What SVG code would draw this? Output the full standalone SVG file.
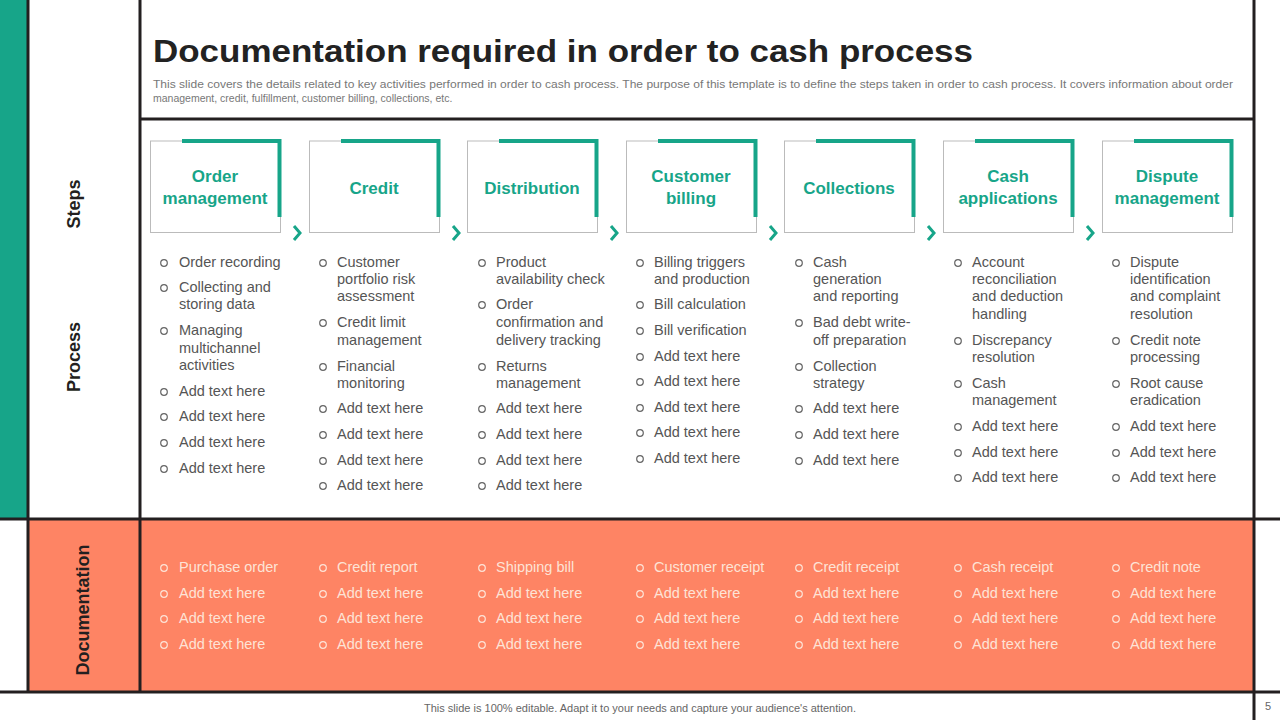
<svg xmlns="http://www.w3.org/2000/svg" width="1280" height="720" viewBox="0 0 1280 720">
<style>
.ln{stroke:#231f20;stroke-width:3;fill:none}
.title{font-family:"Liberation Sans",Arial,sans-serif;font-weight:bold;font-size:32px;fill:#222}
.sub{font-family:"Liberation Sans",Arial,sans-serif;font-size:10.5px;fill:#777}
.side{font-family:"Liberation Sans",Arial,sans-serif;font-weight:bold;font-size:18px;fill:#231f20}
.step{font-family:"Liberation Sans",Arial,sans-serif;font-weight:bold;font-size:17px;fill:#17a589;text-anchor:middle}
.box{fill:#fff;stroke:#bbb;stroke-width:1}
.brk{fill:none;stroke:#17a589;stroke-width:4}
.chev{fill:none;stroke:#17a589;stroke-width:3}
.p{font-family:"Liberation Sans",Arial,sans-serif;font-size:14.5px;fill:#555}
.d{font-family:"Liberation Sans",Arial,sans-serif;font-size:14.5px;fill:#fde3d6}
.bp{fill:none;stroke:#666;stroke-width:1.2}
.bd{fill:none;stroke:#fde3d6;stroke-width:1.2}
.foot{font-family:"Liberation Sans",Arial,sans-serif;font-size:11px;fill:#666}
</style>
<rect x="0" y="0" width="1280" height="720" fill="#fff"/>
<rect x="0" y="0" width="27" height="519" fill="#17a589"/>
<rect x="29" y="520" width="1224" height="172" fill="#fe8464"/>
<g id="frame">
<line class="ln" x1="28" y1="0" x2="28" y2="692"/>
<line class="ln" x1="140" y1="0" x2="140" y2="692"/>
<line class="ln" x1="1254" y1="0" x2="1254" y2="720"/>
<line class="ln" x1="140" y1="119" x2="1254" y2="119"/>
<line class="ln" x1="0" y1="519" x2="1280" y2="519"/>
<line class="ln" x1="0" y1="692" x2="1280" y2="692"/>
</g>
<text class="title" x="153" y="62" textLength="820" lengthAdjust="spacingAndGlyphs">Documentation required in order to cash process</text>
<text class="sub" x="153" y="88" textLength="1080" lengthAdjust="spacingAndGlyphs">This slide covers the details related to key activities performed in order to cash process. The purpose of this template is to define the steps taken in order to cash process. It covers information about order</text>
<text class="sub" x="153" y="102">management, credit, fulfillment, customer billing, collections, etc.</text>
<g id="side-labels">
<text class="side" transform="translate(80,204) rotate(-90)" text-anchor="middle">Steps</text>
<text class="side" transform="translate(80,357) rotate(-90)" text-anchor="middle">Process</text>
<text class="side" transform="translate(89,610) rotate(-90)" text-anchor="middle">Documentation</text>
</g>
<defs>
<g id="stepbox">
<rect class="box" x="0.5" y="1" width="130" height="91.5"/>
<path class="brk" d="M32 1 H129.5 V77"/>
</g>
<path id="chv" class="chev" d="M-3 -7 L3 0 L-3 7"/>
<circle id="cb" r="3.3"/>
</defs>
<g id="steps">
<g id="s1"><use href="#stepbox" x="150" y="140"/><text class="step" x="215" y="182">Order</text><text class="step" x="215" y="204">management</text><use href="#chv" x="297" y="233"/></g>
<g id="s2"><use href="#stepbox" x="309" y="140"/><text class="step" x="374" y="194">Credit</text><use href="#chv" x="456" y="233"/></g>
<g id="s3"><use href="#stepbox" x="467" y="140"/><text class="step" x="532" y="194">Distribution</text><use href="#chv" x="614" y="233"/></g>
<g id="s4"><use href="#stepbox" x="626" y="140"/><text class="step" x="691" y="182">Customer</text><text class="step" x="691" y="204">billing</text><use href="#chv" x="773" y="233"/></g>
<g id="s5"><use href="#stepbox" x="784" y="140"/><text class="step" x="849" y="194">Collections</text><use href="#chv" x="931" y="233"/></g>
<g id="s6"><use href="#stepbox" x="943" y="140"/><text class="step" x="1008" y="182">Cash</text><text class="step" x="1008" y="204">applications</text><use href="#chv" x="1090" y="233"/></g>
<g id="s7"><use href="#stepbox" x="1102" y="140"/><text class="step" x="1167" y="182">Dispute</text><text class="step" x="1167" y="204">management</text></g>
</g>
<g id="process" class="p">
<g class="bp"><use href="#cb" x="164" y="263"/><use href="#cb" x="164" y="288"/><use href="#cb" x="164" y="331"/><use href="#cb" x="164" y="392"/><use href="#cb" x="164" y="417"/><use href="#cb" x="164" y="443"/><use href="#cb" x="164" y="469"/></g>
<text x="179" y="267">Order recording</text><text x="179" y="292">Collecting and</text><text x="179" y="309">storing data</text><text x="179" y="335">Managing</text><text x="179" y="353">multichannel</text><text x="179" y="370">activities</text><text x="179" y="396">Add text here</text><text x="179" y="421">Add text here</text><text x="179" y="447">Add text here</text><text x="179" y="473">Add text here</text>
<g class="bp"><use href="#cb" x="323" y="263"/><use href="#cb" x="323" y="323"/><use href="#cb" x="323" y="367"/><use href="#cb" x="323" y="409"/><use href="#cb" x="323" y="435"/><use href="#cb" x="323" y="461"/><use href="#cb" x="323" y="486"/></g>
<text x="337" y="267">Customer</text><text x="337" y="284">portfolio risk</text><text x="337" y="301">assessment</text><text x="337" y="327">Credit limit</text><text x="337" y="345">management</text><text x="337" y="371">Financial</text><text x="337" y="388">monitoring</text><text x="337" y="413">Add text here</text><text x="337" y="439">Add text here</text><text x="337" y="465">Add text here</text><text x="337" y="490">Add text here</text>
<g class="bp"><use href="#cb" x="482" y="263"/><use href="#cb" x="482" y="305"/><use href="#cb" x="482" y="367"/><use href="#cb" x="482" y="409"/><use href="#cb" x="482" y="435"/><use href="#cb" x="482" y="461"/><use href="#cb" x="482" y="486"/></g>
<text x="496" y="267">Product</text><text x="496" y="284">availability check</text><text x="496" y="309">Order</text><text x="496" y="327">confirmation and</text><text x="496" y="345">delivery tracking</text><text x="496" y="371">Returns</text><text x="496" y="388">management</text><text x="496" y="413">Add text here</text><text x="496" y="439">Add text here</text><text x="496" y="465">Add text here</text><text x="496" y="490">Add text here</text>
<g class="bp"><use href="#cb" x="640" y="263"/><use href="#cb" x="640" y="305"/><use href="#cb" x="640" y="331"/><use href="#cb" x="640" y="357"/><use href="#cb" x="640" y="382"/><use href="#cb" x="640" y="408"/><use href="#cb" x="640" y="433"/><use href="#cb" x="640" y="459"/></g>
<text x="654" y="267">Billing triggers</text><text x="654" y="284">and production</text><text x="654" y="309">Bill calculation</text><text x="654" y="335">Bill verification</text><text x="654" y="361">Add text here</text><text x="654" y="386">Add text here</text><text x="654" y="412">Add text here</text><text x="654" y="437">Add text here</text><text x="654" y="463">Add text here</text>
<g class="bp"><use href="#cb" x="799" y="263"/><use href="#cb" x="799" y="323"/><use href="#cb" x="799" y="367"/><use href="#cb" x="799" y="409"/><use href="#cb" x="799" y="435"/><use href="#cb" x="799" y="461"/></g>
<text x="813" y="267">Cash</text><text x="813" y="284">generation</text><text x="813" y="301">and reporting</text><text x="813" y="327">Bad debt write-</text><text x="813" y="345">off preparation</text><text x="813" y="371">Collection</text><text x="813" y="388">strategy</text><text x="813" y="413">Add text here</text><text x="813" y="439">Add text here</text><text x="813" y="465">Add text here</text>
<g class="bp"><use href="#cb" x="958" y="263"/><use href="#cb" x="958" y="341"/><use href="#cb" x="958" y="384"/><use href="#cb" x="958" y="427"/><use href="#cb" x="958" y="453"/><use href="#cb" x="958" y="478"/></g>
<text x="972" y="267">Account</text><text x="972" y="284">reconciliation</text><text x="972" y="301">and deduction</text><text x="972" y="319">handling</text><text x="972" y="345">Discrepancy</text><text x="972" y="362">resolution</text><text x="972" y="388">Cash</text><text x="972" y="405">management</text><text x="972" y="431">Add text here</text><text x="972" y="457">Add text here</text><text x="972" y="482">Add text here</text>
<g class="bp"><use href="#cb" x="1116" y="263"/><use href="#cb" x="1116" y="341"/><use href="#cb" x="1116" y="384"/><use href="#cb" x="1116" y="427"/><use href="#cb" x="1116" y="453"/><use href="#cb" x="1116" y="478"/></g>
<text x="1130" y="267">Dispute</text><text x="1130" y="284">identification</text><text x="1130" y="301">and complaint</text><text x="1130" y="319">resolution</text><text x="1130" y="345">Credit note</text><text x="1130" y="362">processing</text><text x="1130" y="388">Root cause</text><text x="1130" y="405">eradication</text><text x="1130" y="431">Add text here</text><text x="1130" y="457">Add text here</text><text x="1130" y="482">Add text here</text>
</g>
<g id="documentation" class="d">
<g class="bd">
<use href="#cb" x="164" y="568"/><use href="#cb" x="164" y="594"/><use href="#cb" x="164" y="619"/><use href="#cb" x="164" y="645"/>
<use href="#cb" x="323" y="568"/><use href="#cb" x="323" y="594"/><use href="#cb" x="323" y="619"/><use href="#cb" x="323" y="645"/>
<use href="#cb" x="482" y="568"/><use href="#cb" x="482" y="594"/><use href="#cb" x="482" y="619"/><use href="#cb" x="482" y="645"/>
<use href="#cb" x="640" y="568"/><use href="#cb" x="640" y="594"/><use href="#cb" x="640" y="619"/><use href="#cb" x="640" y="645"/>
<use href="#cb" x="799" y="568"/><use href="#cb" x="799" y="594"/><use href="#cb" x="799" y="619"/><use href="#cb" x="799" y="645"/>
<use href="#cb" x="958" y="568"/><use href="#cb" x="958" y="594"/><use href="#cb" x="958" y="619"/><use href="#cb" x="958" y="645"/>
<use href="#cb" x="1116" y="568"/><use href="#cb" x="1116" y="594"/><use href="#cb" x="1116" y="619"/><use href="#cb" x="1116" y="645"/>
</g>
<text x="179" y="572">Purchase order</text><text x="179" y="598">Add text here</text><text x="179" y="623">Add text here</text><text x="179" y="649">Add text here</text>
<text x="337" y="572">Credit report</text><text x="337" y="598">Add text here</text><text x="337" y="623">Add text here</text><text x="337" y="649">Add text here</text>
<text x="496" y="572">Shipping bill</text><text x="496" y="598">Add text here</text><text x="496" y="623">Add text here</text><text x="496" y="649">Add text here</text>
<text x="654" y="572">Customer receipt</text><text x="654" y="598">Add text here</text><text x="654" y="623">Add text here</text><text x="654" y="649">Add text here</text>
<text x="813" y="572">Credit receipt</text><text x="813" y="598">Add text here</text><text x="813" y="623">Add text here</text><text x="813" y="649">Add text here</text>
<text x="972" y="572">Cash receipt</text><text x="972" y="598">Add text here</text><text x="972" y="623">Add text here</text><text x="972" y="649">Add text here</text>
<text x="1130" y="572">Credit note</text><text x="1130" y="598">Add text here</text><text x="1130" y="623">Add text here</text><text x="1130" y="649">Add text here</text>
</g>
<text class="foot" x="640" y="712" text-anchor="middle">This slide is 100% editable. Adapt it to your needs and capture your audience's attention.</text>
<text class="foot" x="1268" y="710" text-anchor="middle">5</text>
</svg>
